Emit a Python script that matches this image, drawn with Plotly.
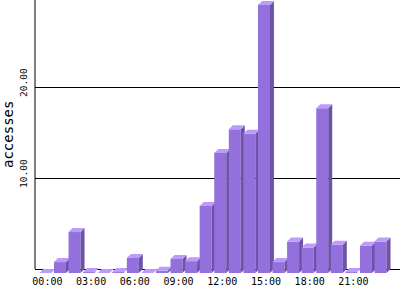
import plotly.graph_objects as go

hours = list(range(24))
accesses = [0.0, 1.2, 4.5, 0.1, 0.0, 0.1, 1.65, 0.0, 0.25, 1.55, 1.3, 7.35,
            13.2, 15.8, 15.3, 29.45, 1.2, 3.45, 2.8, 18.1, 3.1, 0.1, 3.0, 3.45]
tick_hours = [0, 3, 6, 9, 12, 15, 18, 21]
tick_labels = ["00:00", "03:00", "06:00", "09:00", "12:00", "15:00", "18:00", "21:00"]
y_ticks = [10, 20]
y_tick_labels = ["10.00", "20.00"]

X_RANGE = [-0.85, 24.2]
Y_RANGE = [-0.55, 29.56]
PLOT_W, PLOT_H = 365, 274
px_x = (X_RANGE[1] - X_RANGE[0]) / PLOT_W   # data units per px (x)
px_y = (Y_RANGE[1] - Y_RANGE[0]) / PLOT_H   # data units per px (y)
DEPTH = 4
DX, DY = DEPTH * px_x, DEPTH * px_y
F0, F1 = -8 * px_x, 4 * px_x   # front face offsets from category centre

FRONT = "#9370DB"
TOP = "#BC9BFC"
SIDE = "#6C53A8"

fig = go.Figure()
for h, v in zip(hours, accesses):
    xf0, xf1 = h + F0, h + F1
    xb0, xb1 = xf0 + DX, xf1 + DX
    vf = v - DY
    faces = [
        ([xf0, xf1, xf1, xf0, xf0], [-DY, -DY, vf, vf, -DY], FRONT),
        ([xf1, xb1, xb1, xf1, xf1], [-DY, 0, v, vf, -DY], SIDE),
        ([xf0, xf1, xb1, xb0, xf0], [vf, vf, v, v, vf], TOP),
    ]
    for xs, ys, col in faces:
        fig.add_trace(go.Scatter(x=xs, y=ys, mode="lines", fill="toself",
                                 fillcolor=col, line=dict(width=0, color=col),
                                 hoverinfo="skip", showlegend=False))

mono = "DejaVu Sans Mono"
annotations = []
for v, t in zip(y_ticks, y_tick_labels):
    annotations.append(dict(x=0, xref="paper", xshift=-12, y=v, yref="y", yshift=4,
                            text=t, textangle=-90, showarrow=False,
                            xanchor="center", yanchor="middle",
                            font=dict(family=mono, size=9.5, color="black")))
annotations.append(dict(x=0, xref="paper", xshift=-27, y=0.5, yref="paper", yshift=2,
                        text="accesses", textangle=-90, showarrow=False,
                        xanchor="center", yanchor="middle",
                        font=dict(family=mono, size=14, color="black")))

fig.update_layout(
    width=400, height=300,
    margin=dict(l=35, r=0, t=0, b=26, pad=0),
    paper_bgcolor="white", plot_bgcolor="white",
    showlegend=False,
    xaxis=dict(range=X_RANGE, showgrid=False, zeroline=False, showline=False,
               tickmode="array", tickvals=tick_hours, ticktext=tick_labels,
               ticks="", tickfont=dict(family=mono, size=10, color="black"),
               fixedrange=True),
    yaxis=dict(range=Y_RANGE, tickmode="array", tickvals=y_ticks,
               showgrid=True, gridcolor="black", gridwidth=1,
               zeroline=True, zerolinecolor="black", zerolinewidth=1,
               showticklabels=False, ticks="", showline=False, fixedrange=True),
    annotations=annotations,
    shapes=[dict(type="line", xref="paper", x0=0, x1=0, yref="y", y0=0, y1=Y_RANGE[1],
                 line=dict(color="black", width=1), layer="below")],
)

fig.write_html("out.html")
